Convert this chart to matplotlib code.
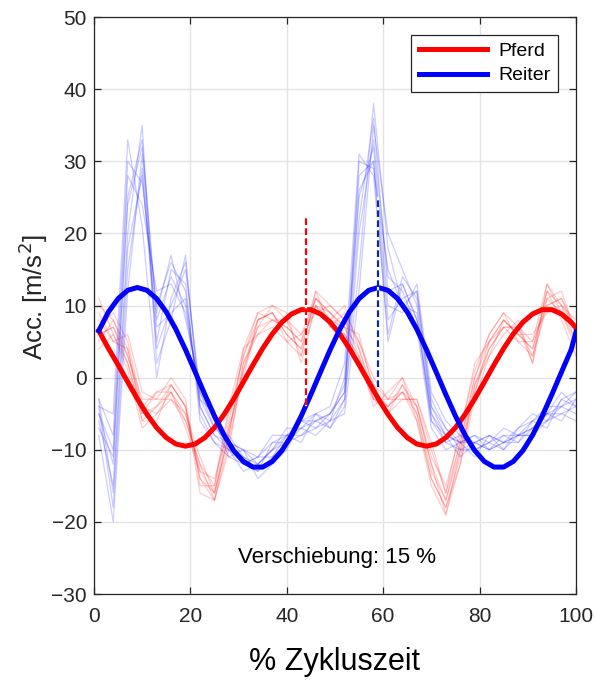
import matplotlib
matplotlib.use("Agg")
import matplotlib.pyplot as plt

plt.rcParams["font.family"] = ["Liberation Sans", "DejaVu Sans"]

# fitted curves (x = 1, 3, ..., 99, 100)
fit_x = [1, 3, 5, 7, 9, 11, 13, 15, 17, 19, 21, 23, 25, 27, 29, 31, 33, 35, 37, 39,
         41, 43, 45, 47, 49, 51, 53, 55, 57, 59, 61, 63, 65, 67, 69, 71, 73, 75, 77, 79,
         81, 83, 85, 87, 89, 91, 93, 95, 97, 99, 100]
pferd_fit = [6.5, 4.05, 1.78, -0.60, -2.94, -5.09, -6.93, -8.32, -9.20, -9.50, -9.20, -8.32,
             -6.93, -5.09, -2.94, -0.60, 1.78, 4.05, 6.06, 7.69, 8.83, 9.43, 9.43, 8.83, 7.69,
             6.06, 4.05, 1.78, -0.60, -2.94, -5.09, -6.93, -8.32, -9.20, -9.50, -9.20, -8.32,
             -6.93, -5.09, -2.94, -0.60, 1.78, 4.05, 6.06, 7.69, 8.83, 9.43, 9.43, 8.83, 7.69, 6.9]
reiter_fit = [6.5, 9.11, 10.95, 12.11, 12.50, 12.11, 10.95, 9.11, 6.70, 3.86, 0.78, -2.34,
              -5.32, -7.97, -10.11, -11.62, -12.40, -12.40, -11.62, -10.11, -7.97, -5.32, -2.34,
              0.78, 3.86, 6.70, 9.11, 10.95, 12.11, 12.50, 12.11, 10.95, 9.11, 6.70, 3.86, 0.78,
              -2.34, -5.32, -7.97, -10.11, -11.62, -12.40, -12.40, -11.62, -10.11, -7.97, -5.32,
              -2.34, 0.78, 3.86, 6.3]

# single strides (x = 1, 4, ..., 100)
trial_x = [1, 4, 7, 10, 13, 16, 19, 22, 25, 28, 31, 34, 37, 40, 43, 46, 49, 52, 55, 58,
           61, 64, 67, 70, 73, 76, 79, 82, 85, 88, 91, 94, 97, 100]

pferd_trials = [
    [6, 7, 2, -5, -2, -1, -4, -14, -16, -6, 3, 8, 9, 6, 4, 11, 8, 7, 4, -2, -4, -1, -4, -12, -17, -9, 0, 5, 8, 6, 4, 12, 10, 5],
    [9, 5, 4, -6, -4, -2, -6, -12, -17, -9, 1, 7, 8, 7, 5, 10, 9, 6, 2, -3, -3, -2, -5, -14, -18, -11, -2, 4, 7, 7, 3, 10, 11, 7],
    [5, 8, 3, -3, -3, 0, -3, -15, -15, -4, 4, 9, 10, 8, 3, 12, 7, 9, 5, -1, -5, -3, -3, -10, -16, -7, 1, 6, 9, 5, 5, 13, 9, 4],
    [11, 6, 1, -7, -5, -3, -5, -11, -16, -8, 2, 6, 7, 5, 6, 9, 10, 8, 3, -4, -2, 0, -6, -15, -19, -12, -3, 3, 6, 8, 2, 11, 12, 6],
    [7, 9, 5, -4, -2, -2, -7, -13, -14, -7, 0, 8, 9, 6, 4, 11, 9, 7, 6, -2, -4, -2, -4, -11, -15, -8, 2, 5, 8, 6, 6, 9, 10, 8],
    [4, 6, 2, -6, -6, -1, -4, -16, -17, -10, 2, 7, 10, 9, 2, 10, 8, 10, 4, -3, -5, -1, -5, -13, -17, -10, -1, 4, 7, 5, 3, 12, 8, 3],
    [8, 5, 6, -2, -3, -3, -6, -12, -15, -5, 3, 9, 8, 7, 5, 12, 10, 8, 5, 0, -3, -3, -3, -9, -16, -9, 0, 6, 9, 7, 5, 10, 11, 6],
    [10, 8, 4, -5, -4, -1, -4, -14, -17, -7, 1, 8, 9, 5, 3, 10, 7, 6, 3, -3, -4, -2, -6, -14, -18, -12, -1, 3, 8, 6, 4, 11, 9, 5],
    [6, 7, 3, -4, -5, -2, -5, -13, -16, -8, 4, 6, 8, 8, 6, 11, 9, 7, 2, -1, -3, 0, -4, -12, -19, -10, -2, 5, 7, 7, 2, 13, 10, 7],
]

reiter_trials = [
    [-5, -12, 25, 33, 8, 14, 10, -3, -7, -9, -10, -12, -10, -8, -6, -6, -5, -2, 22, 36, 12, 13, 8, -5, -8, -9, -9, -8, -9, -8, -6, -5, -4, -3],
    [-4, -18, 15, 29, 4, 10, 15, -2, -6, -10, -11, -13, -11, -9, -7, -5, -6, 0, 28, 30, 8, 11, 12, -3, -7, -10, -9, -10, -8, -9, -7, -6, -5, -4],
    [-3, -8, 30, 27, 10, 16, 12, -4, -8, -9, -12, -11, -9, -8, -8, -7, -6, -3, 15, 38, 18, 10, 9, -6, -9, -8, -10, -9, -10, -8, -8, -6, -3, -2],
    [-6, -15, 20, 35, 2, 8, 17, -5, -9, -11, -10, -14, -12, -10, -6, -5, -4, 2, 31, 28, 6, 14, 11, -4, -8, -9, -11, -8, -9, -7, -6, -4, -4, -5],
    [-5, -10, 28, 24, 12, 13, 9, -2, -7, -8, -11, -12, -10, -7, -7, -6, -7, -4, 20, 33, 14, 12, 7, -7, -10, -9, -8, -9, -8, -8, -7, -5, -6, -3],
    [-8, -20, 12, 31, 5, 15, 13, -6, -9, -10, -12, -13, -9, -9, -8, -6, -5, -1, 25, 32, 10, 9, 13, -2, -6, -8, -9, -10, -9, -9, -6, -7, -3, -4],
    [-4, -5, 33, 21, 0, 11, 16, -3, -5, -9, -10, -11, -11, -8, -7, -8, -6, -5, 12, 35, 20, 15, 10, -5, -9, -10, -10, -9, -7, -8, -7, -5, -5, -6],
    [-3, -16, 18, 28, 7, 9, 11, -4, -8, -10, -13, -12, -10, -9, -6, -7, -5, -2, 26, 30, 5, 13, 8, -6, -8, -11, -9, -8, -10, -7, -5, -6, -4, -2],
    [-7, -11, 24, 32, 9, 17, 8, -1, -6, -11, -12, -11, -8, -8, -9, -5, -7, -3, 30, 29, 15, 10, 12, -4, -7, -9, -8, -10, -9, -8, -8, -5, -2, -4],
]

# peak markers: (x, y from, y to)
pferd_peak = (44, -3.8, 22.1)
reiter_peak = (59, -1.3, 24.9)

shift_text = "Verschiebung: 15 %"

dark = "#262626"

fig = plt.figure(figsize=(5.94, 6.90), dpi=100)
ax = fig.add_axes([0.1582, 0.1391, 0.8114, 0.8362])

for tr in pferd_trials:
    ax.plot(trial_x, tr, color="red", alpha=0.2, lw=0.9, zorder=2)
for tr in reiter_trials:
    ax.plot(trial_x, tr, color="blue", alpha=0.2, lw=0.9, zorder=2)

ax.plot(fit_x, pferd_fit, color="red", lw=3.6, label="Pferd", zorder=3)
ax.plot(fit_x, reiter_fit, color="blue", lw=3.6, label="Reiter", zorder=3)

# dashed peak lines
for (px, y0, y1), col in [(pferd_peak, "red"), (reiter_peak, "#0d2a94")]:
    ax.plot([px, px], [y0, y1], color="white", lw=1.6, zorder=4)
    ax.plot([px, px], [y0, y1], color=col, lw=1.6, ls=(0, (3, 1.5)), zorder=5)

ax.text(50.5, -25, shift_text, ha="center", va="center", fontsize=16, color="black")

ax.set_xlim(0, 100)
ax.set_ylim(-30, 50)
ax.set_xticks([0, 20, 40, 60, 80, 100])
ax.set_yticks(range(-30, 51, 10))
ax.grid(True, color="#e3e3e3", lw=1.0)
ax.set_axisbelow(True)

for s in ax.spines.values():
    s.set_color(dark)
    s.set_linewidth(0.9)
ax.tick_params(direction="in", top=True, right=True, length=5, width=0.9,
               colors=dark, labelsize=15)
ax.tick_params(axis="x", pad=9)
ax.tick_params(axis="y", pad=5)

ax.set_xlabel("% Zykluszeit", fontsize=22, color="black")
ax.xaxis.set_label_coords(0.5, -0.092)
ax.set_ylabel("Acc. [m/s$^2$]", fontsize=18.5, color=dark)
ax.yaxis.set_label_coords(-0.092, 0.515)

leg = ax.legend(loc="upper right", fontsize=14, handlelength=3.5, fancybox=False,
                framealpha=1, edgecolor=dark, borderaxespad=0.9, borderpad=0.4,
                labelspacing=0.35, handletextpad=0.6)
leg.get_frame().set_linewidth(0.9)

fig.savefig("out.png", dpi=100)
